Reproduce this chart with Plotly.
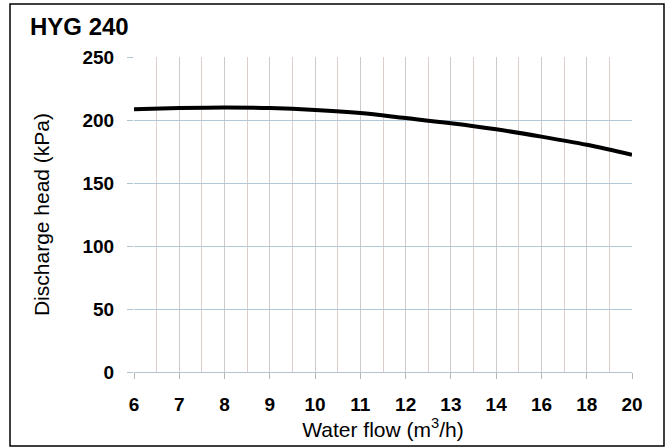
import numpy as np
import plotly.graph_objects as go

# Data
tick_flows = [6, 7, 8, 9, 10, 11, 12, 13, 14, 16, 18, 20]
tick_labels = ["6", "7", "8", "9", "10", "11", "12", "13", "14", "16", "18", "20"]
flow = [6, 7, 8, 9, 10, 11, 12, 13, 14, 16, 18, 20]
head = [208.5, 209.5, 210, 209.5, 208, 205.5, 201.5, 197.4, 192.6, 186.8, 180.3, 172.4]
y_ticks = [0, 50, 100, 150, 200, 250]

# The chart's x axis is evenly spaced per tick label; map flows to label positions
idx = list(range(len(tick_flows)))
pos = np.interp(flow, tick_flows, idx)

W, H = 672, 448
fig = go.Figure()
fig.add_trace(go.Scatter(
    x=pos, y=head, mode="lines", line=dict(color="black", width=4, shape="spline"),
    showlegend=False, hoverinfo="skip"))

fig.update_layout(
    width=W, height=H,
    margin=dict(l=0, r=0, t=0, b=0, autoexpand=False),
    paper_bgcolor="white", plot_bgcolor="white",
    font=dict(family="Arial, Liberation Sans, sans-serif", color="black"),
    xaxis=dict(
        domain=[134 / W, 632 / W],
        range=[0, len(idx) - 1], tickvals=idx,
        ticktext=["<b>%s</b>" % t for t in tick_labels],
        tickfont=dict(size=19, color="black"),
        ticklabelstandoff=9,
        showgrid=True, gridcolor="#cfcaca", gridwidth=1,
        minor=dict(dtick=0.5, tick0=0, showgrid=True, gridcolor="#dccfcb", gridwidth=1),
        ticks="outside", ticklen=6, tickcolor="#b0b8c0",
        showline=True, linecolor="#b8c4cc", linewidth=1,
        zeroline=False, automargin=False,
        title=dict(text="Water flow (m<sup>3</sup>/h)", font=dict(size=21), standoff=8),
    ),
    yaxis=dict(
        domain=[(H - 372) / H, (H - 57) / H],
        range=[0, 250], tickvals=y_ticks,
        ticktext=["<b>%d</b>" % v for v in y_ticks],
        tickfont=dict(size=19, color="black"),
        ticklabelstandoff=9,
        showgrid=True, gridcolor="#b3c8d6", gridwidth=1,
        ticks="outside", ticklen=6, tickcolor="#b0c4d0",
        showline=False, zeroline=False, automargin=False,
        title=dict(text="Discharge head (kPa)", font=dict(size=21), standoff=27),
    ),
    title=dict(text="<b>HYG 240</b>", x=30 / W, xanchor="left", y=1 - 27 / H, yanchor="middle",
               font=dict(size=24, color="black")),
)

fig.add_shape(type="rect", xref="paper", yref="paper",
              x0=10 / W, x1=664 / W, y0=1 - 446 / H, y1=1 - 4 / H,
              line=dict(color="black", width=1.5), fillcolor="rgba(0,0,0,0)")

fig.write_html("out.html", config={"displayModeBar": False},
               post_script="document.body.style.margin='0';")
